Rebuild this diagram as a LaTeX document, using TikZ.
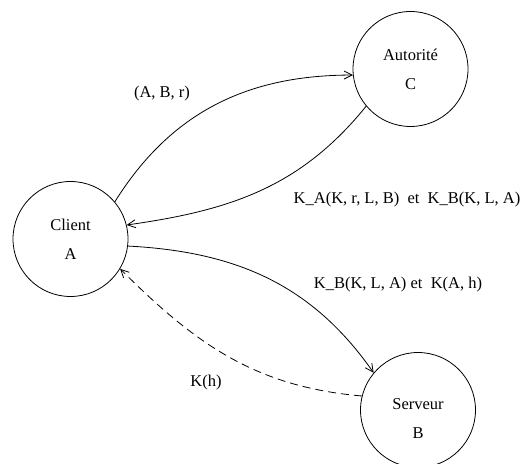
\documentclass[tikz,border=0pt]{standalone}
\usepackage{fontspec}
\setmainfont{Liberation Serif}
\usetikzlibrary{positioning,arrows.meta}

\begin{document}
\begin{tikzpicture}[x=1pt, y=1pt,
    nodes = {align = center, font=\fontsize{16.5}{29}\selectfont},
    station/.style = {draw, circle, minimum size=115pt, inner sep=0pt, line width=0.8pt},
    msg/.style = {inner sep=1pt}]
    \useasboundingbox (0,0) rectangle (524,463);
    \node (client) [station] at (70.5,224) {Client\\A};
    \node (autorite) [station] at (410.5,394) {Autorité\\C};
    \node (serveur) [station, text height=57pt, text depth=0pt] at (418,53) {Serveur\\B};
    \node (m1) [msg] at (162,369) {(A, B, r)};
    \node (m2) [msg] at (407,263) {K\_A(K, r, L, B) \ et \ K\_B(K, L, A)};
    \node (m3) [msg] at (398,178) {K\_B(K, L, A) et \ K(A, h)};
    \node (m4) [msg] at (206,80) {K(h)};
    \path[->, line width=0.8pt, >={Straight Barb[length=8pt,width=8pt]}] (client.40) edge[out=58, in=180] (autorite.186);
    \path[->, line width=0.8pt, >={Straight Barb[length=8pt,width=8pt]}] (autorite.220) edge[out=231, in=8] (client.14);
    \path[->, line width=0.8pt, >={Straight Barb[length=8pt,width=8pt]}] (client.-7) edge[out=-3, in=125] (serveur.140);
    \path[->, line width=0.8pt, dash pattern=on 8pt off 5pt, >={Straight Barb[length=8pt,width=8pt]}] (serveur.166) edge[out=175, in=-45] (client.-31);
\end{tikzpicture}
\end{document}
